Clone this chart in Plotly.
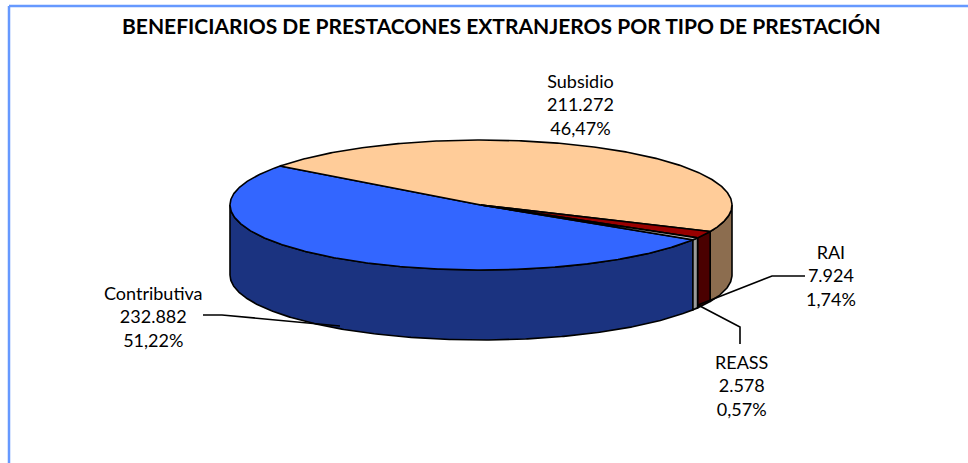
import numpy as np
import plotly.graph_objects as go

# ---- data ----
categories = ["Contributiva", "Subsidio", "RAI", "REASS"]
values = [232882, 211272, 7924, 2578]
top_colors = ["#3366FF", "#FFCC99", "#990000", "#D9D9D9"]
side_colors = ["#1B3380", "#8C6D4F", "#4A0000", "#9A9A9A"]

title = "BENEFICIARIOS DE PRESTACONES EXTRANJEROS POR TIPO DE PRESTACIÓN"

# ---- geometry (pixel-like axis units) ----
W, H = 968, 463
cx, cy = 481.0, 205.0
rx, ry = 251.0, 65.0
depth = 70.0
start_deg = 32.4

total = float(sum(values))
spans = [v / total * 360.0 for v in values]
bounds = []
a = start_deg
for s in spans:
    bounds.append((a, a + s))
    a += s

def arc(t1, t2, yoff=0.0, n_per_deg=2):
    n = max(2, int(abs(t2 - t1) * n_per_deg) + 2)
    t = np.radians(np.linspace(t1, t2, n))
    return cx + rx * np.cos(t), cy + yoff + ry * np.sin(t)

fig = go.Figure()

# side walls (front half only: 0..180 and 360..540)
for (t1, t2), col in zip(bounds, side_colors):
    for lo, hi in [(0, 180), (360, 540)]:
        a1, a2 = max(t1, lo), min(t2, hi)
        if a2 > a1:
            xt, yt = arc(a1, a2)
            xb, yb = arc(a2, a1, depth)
            xs = np.concatenate([xt, xb, xt[:1]])
            ys = np.concatenate([yt, yb, yt[:1]])
            fig.add_trace(go.Scatter(x=xs, y=ys, mode="lines", fill="toself",
                                     fillcolor=col, line=dict(color="black", width=1.6),
                                     hoverinfo="skip", showlegend=False))

# top faces
for (t1, t2), col in zip(bounds, top_colors):
    xa, ya = arc(t1, t2)
    xs = np.concatenate([[cx], xa, [cx]])
    ys = np.concatenate([[cy], ya, [cy]])
    fig.add_trace(go.Scatter(x=xs, y=ys, mode="lines", fill="toself",
                             fillcolor=col, line=dict(color="black", width=1.6),
                             hoverinfo="skip", showlegend=False))

def fmt_int(v):
    return f"{v:,}".replace(",", ".")

def fmt_pct(v):
    return f"{v / total * 100:.2f}".replace(".", ",") + "%"

label_pos = {
    "Contributiva": (153, 316),
    "Subsidio": (580, 104),
    "RAI": (831, 275),
    "REASS": (741, 385),
}
leaders = {
    "Contributiva": [(203, 315), (222, 315), (340, 326)],
    "RAI": [(805, 276), (772, 276), (698, 305)],
    "REASS": [(698, 305), (740, 327), (740, 344)],
}
for name, pts in leaders.items():
    fig.add_trace(go.Scatter(x=[p[0] for p in pts], y=[p[1] for p in pts], mode="lines",
                             line=dict(color="black", width=1.6),
                             hoverinfo="skip", showlegend=False))

for name, v in zip(categories, values):
    x, y = label_pos[name]
    fig.add_annotation(x=x, y=y, xref="x", yref="y", showarrow=False,
                       text=f"{name}<br>{fmt_int(v)}<br>{fmt_pct(v)}",
                       font=dict(family="Lato", size=18, color="black"),
                       align="center", xanchor="center", yanchor="middle")

fig.add_annotation(x=501, y=25, xref="x", yref="y", showarrow=False,
                   text=f"<b>{title}</b>",
                   font=dict(family="Lato", size=21, color="black"),
                   xanchor="center", yanchor="middle")

# frame border lines
fig.add_shape(type="line", x0=9, y0=6, x1=W, y1=6, xref="x", yref="y",
              line=dict(color="#6699FF", width=2.5))
fig.add_shape(type="line", x0=9, y0=6, x1=9, y1=H, xref="x", yref="y",
              line=dict(color="#6699FF", width=2.5))

fig.update_layout(
    width=W, height=H,
    margin=dict(l=0, r=0, t=0, b=0),
    paper_bgcolor="white", plot_bgcolor="white",
    xaxis=dict(range=[0, W], visible=False, fixedrange=True),
    yaxis=dict(range=[H, 0], visible=False, fixedrange=True),
)

fig.write_html("out.html",
               config={"displayModeBar": False, "staticPlot": True},
               post_script="document.body.style.margin='0px';document.body.style.overflow='hidden';")
